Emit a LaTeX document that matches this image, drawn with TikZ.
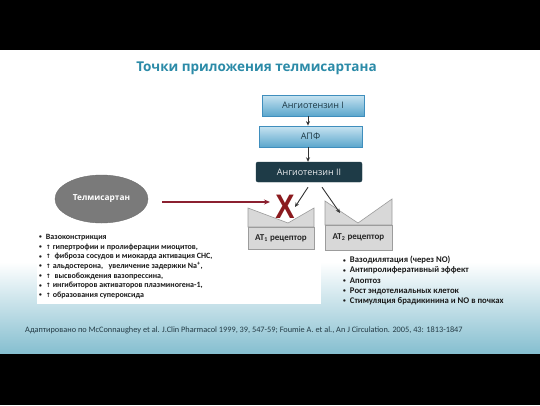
\documentclass[tikz,border=0pt]{standalone}
\usepackage{fontspec}
\setmainfont{Carlito}
\newfontfamily\osans{Open Sans}
\newfontfamily\arrfont{DejaVu Sans}
\newfontfamily\lsans{Liberation Sans}
\usetikzlibrary{arrows.meta,shapes.geometric,calc}
\definecolor{titleteal}{HTML}{2C8BA8}
\definecolor{boxborder}{HTML}{3F8EBD}
\definecolor{boxtop}{HTML}{C8E4F1}
\definecolor{boxbot}{HTML}{5BA6CC}
\definecolor{boxtext}{HTML}{1E3A46}
\definecolor{dkbox}{HTML}{1E3B47}
\definecolor{telgray}{HTML}{7A7A7A}
\definecolor{xred}{HTML}{8B1A1E}
\definecolor{arrred}{HTML}{8B2030}
\definecolor{atfill}{HTML}{D8D8D8}
\definecolor{atdraw}{HTML}{9C9C9C}
\definecolor{bgbot}{HTML}{86BFD0}
\definecolor{bgmid}{HTML}{D3E9F0}
\definecolor{listtext}{HTML}{1A1A1A}
\definecolor{foottext}{HTML}{243B45}
\newcommand{\up}{{\arrfont\fontsize{6}{6}\selectfont ↑}}
\newcommand{\bul}{\raisebox{0.6pt}{\fontsize{5.5}{5}\selectfont\textbullet}\hspace{4pt}}
\begin{document}
\begin{tikzpicture}[x=1pt,y=1pt,
  bluebox/.style={draw=boxborder, line width=0.8pt, top color=boxtop, bottom color=boxbot,
    minimum height=21pt, inner sep=0pt, text=boxtext, font=\osans\fontsize{9}{10}\selectfont},
  darkbox/.style={draw=dkbox, fill=dkbox, rounded corners=2pt, minimum width=106pt,
    minimum height=20pt, inner sep=0pt, text=white!90!dkbox, font=\osans\fontsize{9}{10}\selectfont},
  darr/.style={draw=black!80, line width=0.9pt, -{Stealth[length=4.5pt,width=4pt]}},
  atshape/.style={fill=atfill, draw=atdraw, line width=0.6pt},
  atlabel/.style={fill=atfill, draw=atdraw, line width=0.6pt, inner sep=0pt,
    font=\bfseries\fontsize{9}{10}\selectfont, text=black!85},
  listnode/.style={align=left, inner sep=0pt, text=listtext,
    font=\bfseries\fontsize{8}{9.7}\selectfont}
]
\useasboundingbox (0,0) rectangle (540,-405);
\fill[black] (0,0) rectangle (540,-405);
\fill[white] (0,-50) rectangle (540,-353);
\shade[top color=white, middle color=bgmid, bottom color=bgbot] (0,-262) rectangle (540,-353);
\fill[white] (37,-229) rectangle (321,-304);

\node[font=\osans\bfseries\fontsize{13.5}{15}\selectfont, text=titleteal] (title) at (256.5,-68) {Точки приложения телмисартана};

\node[bluebox, minimum width=102pt] (a1) at (313,-105.5) {Ангиотензин I};
\node[bluebox, minimum width=103pt] (apf) at (310.5,-136.5) {АПФ};
\node[darkbox] (a2) at (309,-172) {Ангиотензин II};

\draw[darr] ([xshift=-5pt]a1.south) -- ([xshift=-2.5pt]apf.north);
\draw[darr] ([xshift=-2.5pt]apf.south) -- ([xshift=-1pt]a2.north);

\node[ellipse, fill=telgray, draw=telgray!90!black, minimum width=93pt, minimum height=48pt,
  inner sep=0pt, text=white, font=\osans\bfseries\fontsize{8.3}{9}\selectfont] (tel) at (101.5,-199) {Телмисартан};

% receptors
\filldraw[atshape] (248,-208) -- (288,-223) -- (314,-208) -- (314,-227) -- (248,-227) -- cycle;
\node[atlabel, minimum width=66pt, minimum height=22pt] (at1) at (281,-238) {AT\textsubscript{1} рецептор};
\filldraw[atshape] (325,-201) -- (358,-223) -- (392,-199) -- (392,-225) -- (325,-225) -- cycle;
\node[atlabel, minimum width=67pt, minimum height=25pt] (at2) at (358.5,-237.5) {AT\textsubscript{2} рецептор};

\node[inner sep=0pt, text=xred, font=\lsans\bfseries\fontsize{34}{34}\selectfont, xscale=0.85] (xx) at (285,-207) {X};

\coordinate (t1) at (295,-207);
\coordinate (t2) at (340,-213);
\draw[darr] ([shift={(-1pt,-5pt)}]a2.south) -- (t1);
\draw[darr] ([shift={(13pt,-5pt)}]a2.south) -- (t2);

\coordinate (rs) at (162,-202);
\coordinate (re) at (270,-202);
\draw[draw=arrred, line width=1.1pt, -{Stealth[length=6pt,width=5pt]}] (rs) -- (re);

\node[listnode, anchor=north west] (left) at (39,-234) {%
\bul Вазоконстрикция\\
\bul\up\ гипертрофии и пролиферации миоцитов,\\
\bul\up\ \ фиброза сосудов и миокарда активация СНС,\\
\bul\up\ альдостерона,\ \ \ увеличение задержки Na\textsuperscript{+},\\
\bul\up\ \ высвобождения вазопрессина,\\
\bul\up\ ингибиторов активаторов плазминогена-1,\\
\bul\up\ образования супероксида};

\node[listnode, anchor=north west, font=\bfseries\fontsize{8.7}{10.2}\selectfont] (right) at (343,-256) {%
\bul Вазодилятация (через NO)\\
\bul Антипролиферативный эффект\\
\bul Апоптоз\\
\bul Рост эндотелиальных клеток\\
\bul Стимуляция брадикинина и NO в почках};

\node[anchor=west, inner sep=0pt, text=foottext, font=\fontsize{8.3}{9}\selectfont] (foot) at (25,-330)
  {Адаптировано по McConnaughey et al. J.Clin Pharmacol 1999, 39, 547-59; Foumie A. et al., An J Circulation. 2005, 43: 1813-1847};
\end{tikzpicture}
\end{document}
